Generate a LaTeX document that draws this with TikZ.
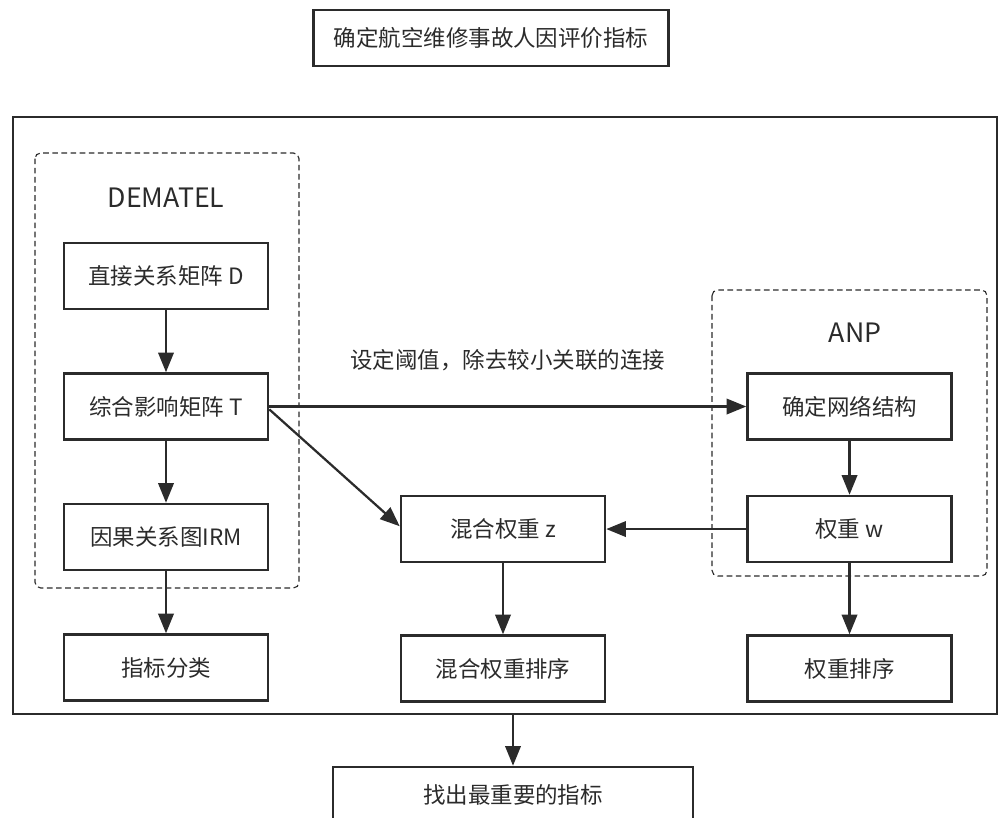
\documentclass[tikz,border=0pt]{standalone}
\usepackage{fontspec}
\setmainfont{Noto Sans CJK SC}
\usetikzlibrary{positioning,arrows.meta}

\definecolor{ink}{HTML}{2B2B2B}
\tikzset{
  box/.style={draw=ink, line width=1.8pt, text=ink, minimum width=5.1cm,
    minimum height=1.65cm, font=\fontsize{16pt}{19pt}\selectfont},
  widebox/.style={box, minimum height=1.4cm},
  group/.style={draw=ink, dash pattern=on 4pt off 2.5pt, line width=0.8pt, rounded corners=4pt},
  grouplabel/.style={text=ink, font=\fontsize{19pt}{22pt}\selectfont},
  flow/.style={draw=ink, line width=1.6pt, -{Triangle[length=14pt,width=11pt]}},
}

\begin{document}
\begin{tikzpicture}
  \useasboundingbox (0,0) rectangle (25.075,-20.45);
  \clip (0,0) rectangle (25.075,-20.45);

  % Top and bottom boxes
  \node[widebox, minimum width=8.875cm] (top) at (12.275,-0.95) {确定航空维修事故人因评价指标};
  \node[widebox, minimum width=9cm] (final) at (12.825,-19.875) {找出最重要的指标};

  % Outer frame
  \draw[ink, line width=1.8pt] (0.325,-2.925) rectangle (24.925,-17.85);
  \coordinate (frameb) at (12.825,-17.85);

  % DEMATEL column
  \node[box] (D) at (4.15,-6.9) {直接关系矩阵 D};
  \node[box, below=1.55cm of D] (T) {综合影响矩阵 T};
  \node[box, below=1.55cm of T] (irm) {因果关系图IRM};
  \node[box, below=1.55cm of irm] (cls) {指标分类};

  % ANP column
  \node[box, right=11.925cm of T] (net) {确定网络结构};
  \node[box, below=1.35cm of net] (w) {权重 w};
  \node[box, below=1.775cm of w] (wsort) {权重排序};

  % Mixed weights
  \node[box, left=3.5cm of w] (z) {混合权重 z};
  \node[box, below=1.775cm of z] (zsort) {混合权重排序};

  % Dashed groups
  \draw[group] (0.875,-3.825) rectangle (7.475,-14.7);
  \node[grouplabel] (dematel) at (4.15,-4.95) {DEMATEL};
  \draw[group] (17.8,-7.25) rectangle (24.675,-14.4);
  \node[grouplabel] (anp) at (21.375,-8.325) {ANP};

  % Connections
  \draw[flow] (D) -- (T);
  \draw[flow] (T) -- (irm);
  \draw[flow] (irm) -- (cls);
  \draw[flow] (T.east) -- node[above=0.75cm, text=ink, font=\fontsize{16pt}{19pt}\selectfont]
    {设定阈值，除去较小关联的连接} (net.west);
  \draw[flow] ([yshift=-2pt]T.east) -- ([yshift=2pt]z.west);
  \draw[flow] (net) -- (w);
  \draw[flow] (w) -- (wsort);
  \draw[flow] (w) -- (z);
  \draw[flow] (z) -- (zsort);
  \draw[flow] (frameb) -- (final);
\end{tikzpicture}
\end{document}
